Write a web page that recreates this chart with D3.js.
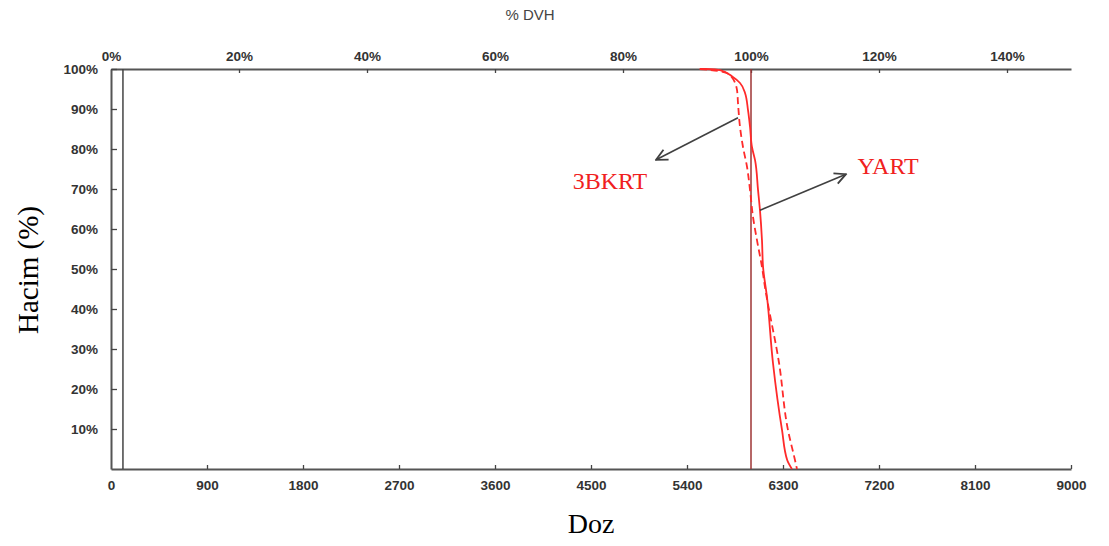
<!DOCTYPE html>
<html>
<head>
<meta charset="utf-8">
<script src="https://cdn.jsdelivr.net/npm/d3@7"></script>
<style>
  body { margin: 0; background: #fff; }
  svg { display: block; }
</style>
</head>
<body>
<svg id="chart" width="1109" height="546"></svg>
<script>
// Dose axis (cGy) and relative dose axis ticks
const doseTicks = [0, 900, 1800, 2700, 3600, 4500, 5400, 6300, 7200, 8100, 9000];
const pctTicks = [0, 20, 40, 60, 80, 100, 120, 140];
const volTicks = [10, 20, 30, 40, 50, 60, 70, 80, 90, 100];

const prescriptionDose = 6000;
const markerDose = 112;

// Cumulative DVH, YART plan (solid)
const yartDose = [5520, 5570, 5710, 5830, 5897, 5944, 5972, 5991, 6009, 6038, 6066, 6084, 6103, 6113, 6150, 6206, 6291, 6340, 6384];
const yartVol  = [100, 100, 99.7, 98, 96.5, 94, 89.7, 85.5, 80.5, 77.2, 69.7, 64.7, 57.2, 50.5, 43, 26.5, 9.7, 2.2, 0];

// Cumulative DVH, 3BKRT plan (dashed)
const bkrtDose = [5520, 5690, 5803, 5869, 5878, 5897, 5925, 5963, 5991, 6019, 6056, 6103, 6131, 6263, 6347, 6410, 6431];
const bkrtVol  = [100, 99.5, 98.5, 94.7, 91.5, 85.5, 80.5, 75.5, 69.7, 63, 57.2, 50.5, 45.5, 26.5, 9.7, 2.5, 0];

const svg = d3.select("#chart");
const plotLeft = 111, plotRight = 1071, plotTop = 69, plotBottom = 469;

const x = d3.scaleLinear().domain([0, 9000]).range([plotLeft, plotRight]);
const xp = d3.scaleLinear().domain([0, 150]).range([plotLeft, plotRight]);
const y = d3.scaleLinear().domain([0, 100]).range([plotBottom, plotTop]);

const axisColor = "#555";
const labelColor = "#333";

// Bottom axis (dose)
const gB = svg.append("g").attr("transform", `translate(0,${plotBottom})`)
  .call(d3.axisBottom(x).tickValues(doseTicks).tickFormat(d3.format("d"))
    .tickSizeInner(-4).tickSizeOuter(0).tickPadding(11));
// Top axis (% of prescription)
const gT = svg.append("g").attr("transform", `translate(0,${plotTop})`)
  .call(d3.axisTop(xp).tickValues(pctTicks).tickFormat(d => d + "%")
    .tickSizeInner(-4).tickSizeOuter(0).tickPadding(8));
// Left axis (volume)
const gL = svg.append("g").attr("transform", `translate(${plotLeft},0)`)
  .call(d3.axisLeft(y).tickValues(volTicks).tickFormat(d => d + "%")
    .tickSizeInner(-6).tickSizeOuter(0).tickPadding(13));

[gB, gT, gL].forEach(g => {
  g.select(".domain").attr("stroke", axisColor).attr("stroke-width", 2);
  g.selectAll(".tick line").attr("stroke", "#444").attr("stroke-width", 1.3);
  g.selectAll(".tick text")
    .attr("fill", labelColor)
    .style("font-family", "Arial, 'Liberation Sans', sans-serif")
    .style("font-size", "13.5px")
    .style("font-weight", "bold");
});
gB.selectAll(".tick").filter(d => d === 0).select("line").remove();
gT.selectAll(".tick").filter(d => d === 0).select("line").remove();

// Thin reference line near the origin
svg.append("line")
  .attr("x1", x(markerDose)).attr("x2", x(markerDose))
  .attr("y1", y(0)).attr("y2", y(100))
  .attr("stroke", "#444").attr("stroke-width", 1.5);

// Prescription dose line
svg.append("line")
  .attr("x1", x(prescriptionDose)).attr("x2", x(prescriptionDose))
  .attr("y1", y(0)).attr("y2", y(100))
  .attr("stroke", "#9e3535").attr("stroke-width", 1.5);

const line = d3.line().x(d => x(d[0])).y(d => y(d[1])).curve(d3.curveMonotoneY);

svg.append("path")
  .datum(d3.zip(bkrtDose, bkrtVol))
  .attr("d", line)
  .attr("fill", "none")
  .attr("stroke", "#ff2a2a")
  .attr("stroke-width", 1.8)
  .attr("stroke-dasharray", "7,4");

svg.append("path")
  .datum(d3.zip(yartDose, yartVol))
  .attr("d", line)
  .attr("fill", "none")
  .attr("stroke", "#ff2a2a")
  .attr("stroke-width", 1.8);

// Annotation arrows
svg.append("defs").append("marker")
  .attr("id", "arrow")
  .attr("viewBox", "0 0 10 10")
  .attr("refX", 9).attr("refY", 5)
  .attr("markerWidth", 14).attr("markerHeight", 14)
  .attr("markerUnits", "userSpaceOnUse")
  .attr("orient", "auto")
  .append("path")
  .attr("d", "M1,1 L9,5 L1,9")
  .attr("fill", "none")
  .attr("stroke", "#404040")
  .attr("stroke-width", 1.3);

function arrow(d0, v0, d1, v1) {
  svg.append("line")
    .attr("x1", x(d0)).attr("y1", y(v0))
    .attr("x2", x(d1)).attr("y2", y(v1))
    .attr("stroke", "#404040").attr("stroke-width", 1.6)
    .attr("marker-end", "url(#arrow)");
}
arrow(5878, 87.8, 5110, 77.3);
arrow(6084, 64.7, 6890, 73.7);

const serif = "'Times New Roman', 'Liberation Serif', 'DejaVu Serif', serif";
svg.append("text").attr("x", 610).attr("y", 189).attr("text-anchor", "middle")
  .attr("fill", "#f02020").style("font-family", serif).style("font-size", "24px").text("3BKRT");
svg.append("text").attr("x", 888).attr("y", 174).attr("text-anchor", "middle")
  .attr("fill", "#f02020").style("font-family", serif).style("font-size", "24px").text("YART");

// Axis titles
svg.append("text").attr("x", 530).attr("y", 20).attr("text-anchor", "middle")
  .attr("fill", "#444").style("font-family", "Arial, 'Liberation Sans', sans-serif").style("font-size", "15px").text("% DVH");
svg.append("text").attr("x", 591).attr("y", 533).attr("text-anchor", "middle")
  .attr("fill", "#000").style("font-family", serif).style("font-size", "28px").text("Doz");
svg.append("text").attr("transform", "translate(38,270) rotate(-90)").attr("text-anchor", "middle")
  .attr("fill", "#000").style("font-family", serif).style("font-size", "29px").text("Hacim (%)");
</script>
</body>
</html>
